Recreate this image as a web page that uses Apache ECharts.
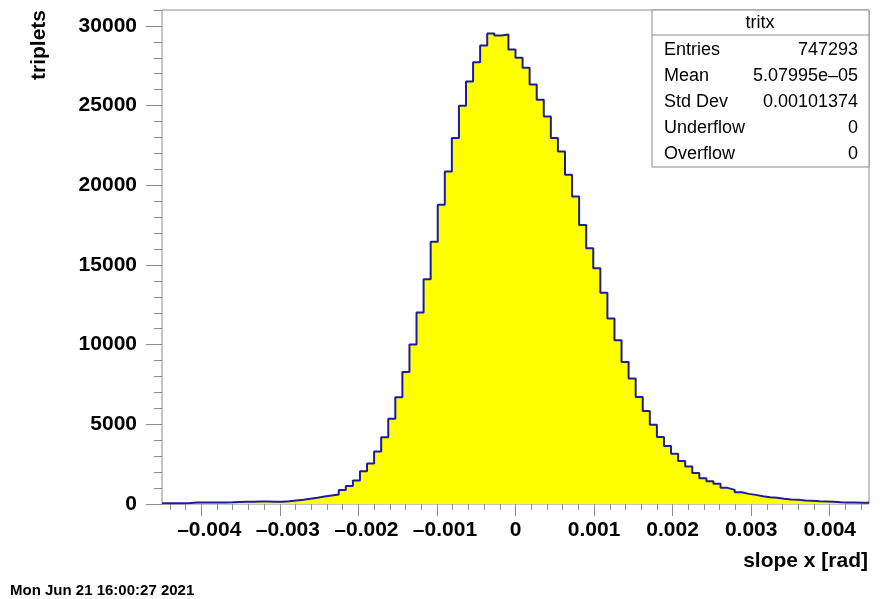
<!DOCTYPE html>
<html>
<head>
<meta charset="utf-8">
<title>tritx</title>
<script src="https://cdn.jsdelivr.net/npm/echarts@6/dist/echarts.min.js"></script>
<style>
  html, body { margin: 0; padding: 0; background: #fff; }
  #chart { width: 887px; height: 599px; }
</style>
</head>
<body>
<div id="chart"></div>
<script>
// histogram binning
const xMin = -0.0045
const xMax = 0.0045
const nBins = 100
const binWidth = (xMax - xMin) / nBins

// entries per bin
const counts = [
  50, 50, 50, 63, 94, 94, 94, 94, 94, 106,
  125, 138, 138, 157, 157, 145, 138, 176, 220, 264,
  327, 390, 472, 535, 598, 880, 1132, 1477, 2063, 2547,
  3301, 4182, 5356, 6697, 8286, 10011, 12023, 14098, 16464, 18772,
  20866, 22967, 24998, 26507, 27721, 28772, 29526, 29400, 29463, 28520,
  27998, 27369, 26319, 25372, 24322, 22967, 22124, 20659, 19295, 17513,
  16047, 14789, 13255, 11644, 10280, 8915, 7871, 6717, 5835, 4980,
  4200, 3635, 3156, 2691, 2358, 1950, 1616, 1427, 1264, 1012,
  887, 735, 635, 573, 484, 421, 390, 327, 283, 264,
  220, 202, 176, 157, 138, 113, 94, 94, 75, 75
]

// axis ticks
const xMajorTicks = [-0.004, -0.003, -0.002, -0.001, 0, 0.001, 0.002, 0.003, 0.004]
const yMajorTicks = [0, 5000, 10000, 15000, 20000, 25000, 30000]
const yMax = 31000

// stats box
const statsTitle = 'tritx'
const statNames = ['Entries', 'Mean', 'Std Dev', 'Underflow', 'Overflow']
const statValues = ['747293', '5.07995e\u201305', '0.00101374', '0', '0']
const dateText = 'Mon Jun 21 16:00:27 2021'

// minor ticks (every 0.0002 on x, every 1000 on y)
const xMinorTicks = []
for (let i = -22; i <= 22; i++) {
  if (i % 5 !== 0) xMinorTicks.push(i * 0.0002)
}
const yMinorTicks = []
for (let v = 0; v <= yMax; v += 1000) {
  if (v % 5000 !== 0) yMinorTicks.push(v)
}

// step outline: one point per bin left edge, plus the last right edge
const stepData = counts.map((c, k) => [xMin + k * binWidth, c])
stepData.push([xMax, counts[nBins - 1]])

const axisGrey = '#8c8c8c'
const font = '"Liberation Sans", Arial, sans-serif'

// ROOT draws the minus hanging to the left, so negative labels sit a bit right
function fmtX(v) {
  if (Math.abs(v) < 1e-12) return '0'
  if (v < 0) return '{n|\u2013' + Math.abs(v).toFixed(3) + '}'
  return Math.abs(v).toFixed(3)
}

const chart = echarts.init(document.getElementById('chart'))

const statsChildren = [
  {
    type: 'rect',
    shape: { x: 652, y: 10, width: 217, height: 157 },
    style: { fill: '#fff', stroke: axisGrey, lineWidth: 1 }
  },
  {
    type: 'line',
    shape: { x1: 652, y1: 35, x2: 869, y2: 35 },
    style: { stroke: axisGrey, lineWidth: 1 }
  },
  {
    type: 'text',
    x: 760, y: 23,
    style: {
      text: statsTitle, font: '18px ' + font, fill: '#000',
      align: 'center', verticalAlign: 'middle', textAlign: 'center', textVerticalAlign: 'middle'
    }
  }
]
statNames.forEach((name, i) => {
  const y = 50 + i * 26
  statsChildren.push({
    type: 'text',
    x: 664, y: y,
    style: {
      text: name, font: '18px ' + font, fill: '#000',
      align: 'left', verticalAlign: 'middle', textAlign: 'left', textVerticalAlign: 'middle'
    }
  })
  statsChildren.push({
    type: 'text',
    x: 858, y: y,
    style: {
      text: statValues[i], font: '18px ' + font, fill: '#000',
      align: 'right', verticalAlign: 'middle', textAlign: 'right', textVerticalAlign: 'middle'
    }
  })
})

const option = {
  animation: false,
  backgroundColor: '#fff',
  grid: {
    left: 162,
    right: 18,
    top: 10,
    bottom: 95,
    show: true,
    borderColor: axisGrey,
    borderWidth: 1,
    backgroundColor: 'transparent'
  },
  xAxis: [
    {
      type: 'value',
      min: xMin,
      max: xMax,
      axisLine: { show: false, onZero: false },
      splitLine: { show: false },
      axisTick: {
        show: true,
        customValues: xMajorTicks,
        length: 12,
        lineStyle: { color: axisGrey, width: 1 }
      },
      axisLabel: {
        customValues: xMajorTicks,
        formatter: fmtX,
        margin: 16,
        color: '#000',
        fontFamily: font,
        fontWeight: 'bold',
        fontSize: 21,
        rich: {
          n: {
            padding: [0, 0, 0, 16],
            color: '#000',
            fontFamily: font,
            fontWeight: 'bold',
            fontSize: 21
          }
        }
      }
    },
    {
      type: 'value',
      min: xMin,
      max: xMax,
      position: 'bottom',
      axisLine: { show: false, onZero: false },
      splitLine: { show: false },
      axisTick: {
        show: true,
        customValues: xMinorTicks,
        length: 6,
        lineStyle: { color: axisGrey, width: 1 }
      },
      axisLabel: { show: false }
    }
  ],
  yAxis: [
    {
      type: 'value',
      min: 0,
      max: yMax,
      position: 'left',
      axisLine: { show: false, onZero: false },
      splitLine: { show: false },
      axisTick: {
        show: true,
        customValues: yMajorTicks,
        length: 16,
        lineStyle: { color: axisGrey, width: 1 }
      },
      axisLabel: {
        customValues: yMajorTicks,
        formatter: v => String(v),
        margin: 25,
        color: '#000',
        fontFamily: font,
        fontWeight: 'bold',
        fontSize: 21
      }
    },
    {
      type: 'value',
      min: 0,
      max: yMax,
      position: 'left',
      axisLine: { show: false, onZero: false },
      splitLine: { show: false },
      axisTick: {
        show: true,
        customValues: yMinorTicks,
        length: 8,
        lineStyle: { color: axisGrey, width: 1 }
      },
      axisLabel: { show: false }
    }
  ],
  series: [
    {
      type: 'line',
      xAxisIndex: 0,
      yAxisIndex: 0,
      data: stepData,
      step: 'end',
      symbol: 'none',
      clip: true,
      lineStyle: { color: '#1c1c9c', width: 2 },
      areaStyle: { color: '#ffff00', opacity: 1 },
      z: 3
    }
  ],
  graphic: [
    {
      type: 'text',
      x: 868, y: 561,
      style: {
        text: 'slope x [rad]', font: 'bold 21px ' + font, fill: '#000',
        align: 'right', verticalAlign: 'middle', textAlign: 'right', textVerticalAlign: 'middle'
      }
    },
    {
      type: 'text',
      x: 39, y: 10,
      rotation: Math.PI / 2,
      style: {
        text: 'triplets', font: 'bold 21px ' + font, fill: '#000',
        align: 'right', verticalAlign: 'middle', textAlign: 'right', textVerticalAlign: 'middle'
      }
    },
    {
      type: 'text',
      x: 10, y: 591,
      style: {
        text: dateText, font: 'bold 15px ' + font, fill: '#000',
        align: 'left', verticalAlign: 'middle', textAlign: 'left', textVerticalAlign: 'middle'
      }
    },
    {
      type: 'group',
      z: 100,
      children: statsChildren
    }
  ]
}

chart.setOption(option)
</script>
</body>
</html>
